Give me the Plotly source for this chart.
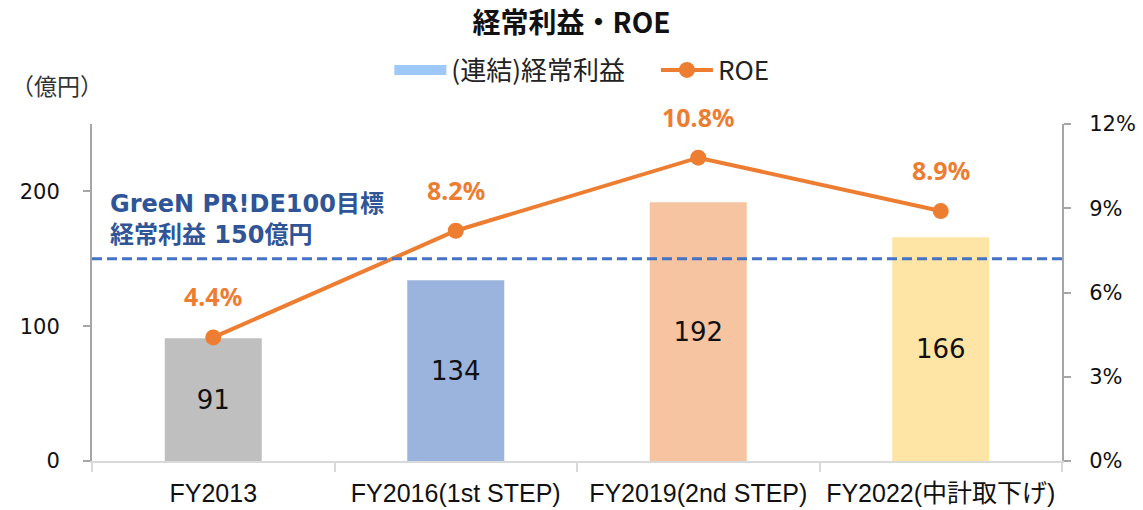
import plotly.graph_objects as go

categories = ["FY2013", "FY2016(1st STEP)", "FY2019(2nd STEP)", "FY2022(中計取下げ)"]
profit = [91, 134, 192, 166]
roe = [4.4, 8.2, 10.8, 8.9]
target_profit = 150
bar_colors = ["#BFBFBF", "#9BB4DE", "#F6C4A1", "#FEE5A6"]
left_ticks = [0, 100, 200]
right_ticks = [0, 3, 6, 9, 12]
right_ticktext = ["0%", "3%", "6%", "9%", "12%"]

NUM_FONT = "DejaVu Sans, Noto Sans CJK JP"
JP_FONT = "Noto Sans CJK JP"

fig = go.Figure()

fig.add_trace(go.Bar(
    x=categories, y=profit, width=0.4,
    marker=dict(color=bar_colors, line=dict(width=0)),
    text=[str(v) for v in profit], textposition="inside",
    insidetextanchor="middle",
    textfont=dict(family=NUM_FONT, size=26, color="#111111"),
    showlegend=False, hoverinfo="skip",
))

# legend entry for the bars
fig.add_trace(go.Scatter(
    x=[None], y=[None], mode="lines", name="(連結)経常利益\u3000",
    line=dict(color="#9DC8F7", width=15),
))

fig.add_trace(go.Scatter(
    x=categories, y=roe, yaxis="y2", mode="lines+markers", name="ROE",
    line=dict(color="#ED7D31", width=4),
    marker=dict(color="#ED7D31", size=16),
    hoverinfo="skip",
))

for c, v in zip(categories, roe):
    fig.add_annotation(
        x=c, y=v, yref="y2", text=f"{v:.1f}%", showarrow=False,
        yshift=41, font=dict(family="Noto Sans", size=25, color="#ED7D31", weight="bold"),
    )

fig.add_shape(
    type="line", xref="paper", x0=0, x1=1, yref="y", y0=target_profit, y1=target_profit,
    line=dict(color="#4472C4", width=3, dash="10px,5px"),
)

fig.add_annotation(
    xref="paper", x=0.017, yref="y", y=target_profit, yshift=8,
    xanchor="left", yanchor="bottom", align="left", showarrow=False,
    text=f"GreeN PR!DE100目標<br>経常利益 {target_profit}億円",
    font=dict(family="Verdana, DejaVu Sans, Noto Sans CJK JP", size=24, color="#2F5597", weight="bold"),
)

fig.add_annotation(
    xref="paper", x=-0.036, yref="paper", y=1.06, xanchor="center", yanchor="bottom",
    text="（億円）", showarrow=False,
    font=dict(family=JP_FONT, size=23, color="#333333"),
)

fig.update_layout(
    width=1143, height=510,
    margin=dict(l=92, r=81, t=124, b=49, autoexpand=False),
    paper_bgcolor="white", plot_bgcolor="white",
    title=dict(text="<b>経常利益・ROE</b>", x=0.5, xref="container", xanchor="center",
               y=1 - 23 / 510, yref="container", yanchor="middle",
               font=dict(family=JP_FONT, size=28, color="#111111")),
    legend=dict(orientation="h", x=0.505, xanchor="center", y=1 - 70 / 510, yref="container",
                yanchor="middle", font=dict(family=JP_FONT, size=26, color="#222222"),
                itemwidth=52, bgcolor="rgba(0,0,0,0)", tracegroupgap=0),
    xaxis=dict(
        type="category", showline=True, linecolor="#D9D9D9", linewidth=2, automargin=False,
        ticks="outside", tickson="boundaries", ticklen=9, tickcolor="#D9D9D9", tickwidth=2,
        tickfont=dict(family="Liberation Sans, Noto Sans CJK JP", size=25, color="#111111"),
        showgrid=False, zeroline=False, ticklabelstandoff=9,
    ),
    yaxis=dict(
        range=[0, 250], tickvals=left_ticks, showline=True, linecolor="#A6A6A6", linewidth=2,
        ticks="outside", ticklen=7, tickcolor="#A6A6A6", tickwidth=2, showgrid=False, zeroline=False,
        tickfont=dict(family=NUM_FONT, size=21, color="#111111"), ticklabelstandoff=19,
        automargin=False,
    ),
    yaxis2=dict(
        range=[0, 12], tickvals=right_ticks, ticktext=right_ticktext, overlaying="y", side="right",
        showline=True, linecolor="#A6A6A6", linewidth=2, ticks="outside", ticklen=7,
        tickcolor="#A6A6A6", tickwidth=2, showgrid=False, zeroline=False,
        tickfont=dict(family=NUM_FONT, size=21, color="#111111"), ticklabelstandoff=14,
        automargin=False,
    ),
    bargap=0.6,
)

fig.write_html("out.html", config={"displayModeBar": False},
               post_script="document.body.style.margin='0';")
